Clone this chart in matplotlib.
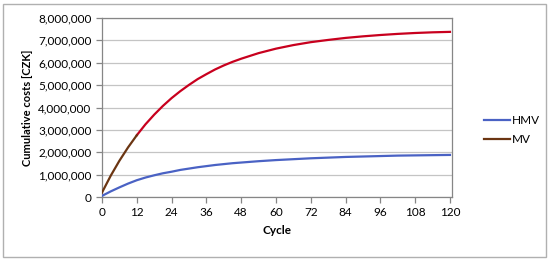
import matplotlib.pyplot as plt
from matplotlib.patches import Rectangle
from matplotlib.ticker import FuncFormatter

cycles = [0, 3, 6, 9, 12, 15, 18, 21, 24, 27, 30, 33, 36, 39, 42, 45, 48,
          54, 60, 66, 72, 78, 84, 90, 96, 102, 108, 114, 120]
mv = [0.20, 0.95, 1.62, 2.22, 2.76, 3.25, 3.68, 4.07, 4.42, 4.73, 5.01, 5.27, 5.49,
      5.70, 5.88, 6.04, 6.18, 6.43, 6.63, 6.79, 6.92, 7.02, 7.11, 7.18, 7.24,
      7.29, 7.33, 7.36, 7.38]
hmv = [0.05, 0.25, 0.43, 0.60, 0.75, 0.87, 0.97, 1.06, 1.13, 1.21, 1.27, 1.33, 1.38,
       1.43, 1.47, 1.51, 1.54, 1.60, 1.65, 1.69, 1.73, 1.76, 1.79, 1.81, 1.83,
       1.85, 1.86, 1.87, 1.88]
mv = [v * 1e6 for v in mv]
hmv = [v * 1e6 for v in hmv]
x_ticks = list(range(0, 121, 12))
y_ticks = list(range(0, 8000001, 1000000))

plt.rcParams['font.family'] = ['Lato', 'DejaVu Sans']

fig = plt.figure(figsize=(5.5, 2.61), dpi=100)
fig.patches.append(Rectangle((3 / 550, 4 / 261), 543 / 550, 253 / 261, transform=fig.transFigure,
                             fill=False, edgecolor='#b0b0b0', linewidth=1))
ax = fig.add_axes([102 / 550, 1 - 197 / 261, 350 / 550, 179 / 261])

ax.plot(cycles, hmv, color='#4a62c4', linewidth=1.6, label='HMV', zorder=3)
ax.plot(cycles[:5], mv[:5], color='#6b3512', linewidth=1.6, label='MV', zorder=4)
ax.plot(cycles[4:], mv[4:], color='#c8001e', linewidth=1.6, zorder=3)

ax.set_xlim(0, 120.7)
ax.set_ylim(0, 8000000)
ax.set_xticks(x_ticks)
ax.set_yticks(y_ticks)
ax.yaxis.set_major_formatter(FuncFormatter(lambda v, p: f'{int(v):,}'))
ax.grid(axis='y', color='#c4c4c4', linewidth=0.9)
ax.set_axisbelow(True)
for s in ax.spines.values():
    s.set_color('#868686')
    s.set_linewidth(0.9)
ax.tick_params(axis='both', labelsize=8.5, color='#868686', length=4, width=0.9, direction='out')

ax.set_xlabel('Cycle', fontsize=8.5, fontweight='bold', labelpad=5)
ax.set_ylabel('Cumulative costs [CZK]', fontsize=8, fontweight='bold', labelpad=4)

handles, labels = ax.get_legend_handles_labels()
fig.legend(handles, labels, loc='center left', bbox_to_anchor=(473 / 550, 1 - 130 / 261),
           frameon=False, fontsize=8.5, handlelength=2.2, handletextpad=0.2, labelspacing=0.7)

fig.savefig('out.png', dpi=100)
